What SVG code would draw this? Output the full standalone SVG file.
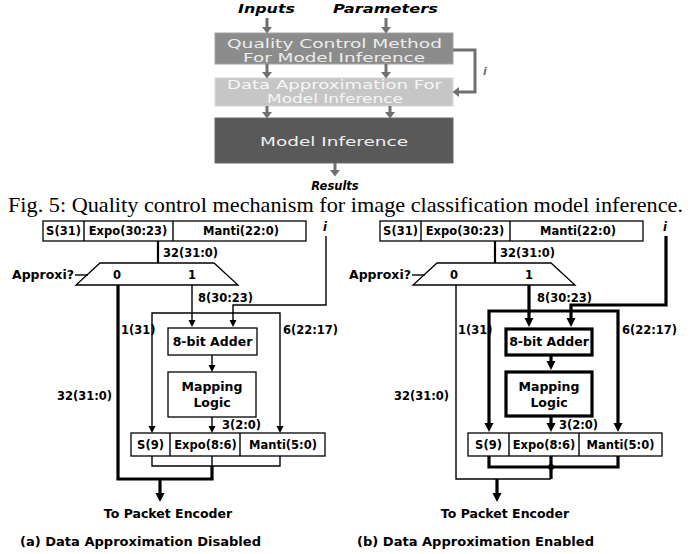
<svg xmlns="http://www.w3.org/2000/svg" width="694" height="554" viewBox="0 0 694 554">
<style>
.t{font-family:"DejaVu Sans",sans-serif;font-weight:bold;font-size:11.5px;fill:#000}
.L{font-size:12.5px}
.m{text-anchor:middle}
.e{text-anchor:end}
.thin{stroke:#000;stroke-width:1.4;fill:none}
.med{stroke:#000;stroke-width:2.2;fill:none}
.thick{stroke:#000;stroke-width:3.2;fill:none}
.box{fill:#fff;stroke:#000;stroke-width:1.3}
.boxb{fill:#fff;stroke:#000;stroke-width:3.2}
.g{stroke:#707070;stroke-width:3;fill:none}
.bt{font-family:"DejaVu Sans",sans-serif;font-size:12px}
.ti{font-family:"DejaVu Sans",sans-serif;font-weight:bold;font-style:italic;font-size:11.5px;fill:#000}
.cap{font-family:"Liberation Serif","Times New Roman",serif;font-size:21px;fill:#000}
</style>
<defs>
<marker id="ag" markerUnits="userSpaceOnUse" markerWidth="7" markerHeight="10" refX="3" refY="5" orient="auto"><path d="M0,0 L6.5,5 L0,10 z" fill="#707070"/></marker>
<marker id="as" markerUnits="userSpaceOnUse" markerWidth="8" markerHeight="8" refX="4" refY="3.5" orient="auto-start-reverse"><path d="M0,0 L7,3.5 L0,7 z" fill="#000"/></marker>
<marker id="ab" markerUnits="userSpaceOnUse" markerWidth="10" markerHeight="10" refX="5" refY="4.5" orient="auto-start-reverse"><path d="M0,0 L9,4.5 L0,9 z" fill="#000"/></marker>
</defs>

<!-- Fig. 5 flow -->
<g id="top-labels">
<text class="ti" x="238" y="13" textLength="57" lengthAdjust="spacingAndGlyphs">Inputs</text>
<text class="ti" x="333" y="13" textLength="105" lengthAdjust="spacingAndGlyphs">Parameters</text>
</g>
<g id="qc-method">
<rect x="215" y="33" width="238" height="31" fill="#8c8c8c" stroke="#a2a2a2" stroke-width="1"/>
<text class="bt" fill="#ececec"><tspan x="227" y="47.5" textLength="215" lengthAdjust="spacingAndGlyphs">Quality Control Method</tspan><tspan x="243" y="61.5" textLength="182" lengthAdjust="spacingAndGlyphs">For Model Inference</tspan></text>
</g>
<g id="data-approx">
<rect x="215" y="78" width="238" height="28" fill="#c6c6c6" stroke="#d6d6d6" stroke-width="1"/>
<text class="bt" fill="#f6f6f6"><tspan x="227" y="89" textLength="215" lengthAdjust="spacingAndGlyphs">Data Approximation For</tspan><tspan x="267" y="103" textLength="136" lengthAdjust="spacingAndGlyphs">Model Inference</tspan></text>
</g>
<g id="model-inference">
<rect x="215" y="118" width="238" height="45" fill="#595959" stroke="#6a6a6a" stroke-width="1"/>
<text class="bt" x="260" y="145.5" fill="#f0f0f0" font-size="13.5px" textLength="148" lengthAdjust="spacingAndGlyphs">Model Inference</text>
</g>
<g id="results-label">
<text class="ti m" x="335" y="190" font-size="11px">Results</text>
</g>
<g id="top-connectors">
<path class="g" d="M267,18 V30" marker-end="url(#ag)"/>
<path class="g" d="M386,18 V30" marker-end="url(#ag)"/>
<path class="g" d="M267,64 V75" marker-end="url(#ag)"/>
<path class="g" d="M386,64 V75" marker-end="url(#ag)"/>
<path class="g" d="M267,106 V115" marker-end="url(#ag)"/>
<path class="g" d="M390,106 V115" marker-end="url(#ag)"/>
<path class="g" d="M335,163 V173" marker-end="url(#ag)"/>
<path class="g" d="M453,50 H475 V92 H456" marker-end="url(#ag)"/>
<text x="483" y="75" font-family="DejaVu Sans,sans-serif" font-weight="bold" font-style="italic" font-size="11px" fill="#707070">i</text>
</g>

<text class="cap" x="8" y="212" textLength="675" lengthAdjust="spacingAndGlyphs">Fig. 5: Quality control mechanism for image classification model inference.</text>

<!-- (a) -->
<g id="diagram-a">
<g id="in-reg-a">
<rect class="box" x="43" y="221" width="263" height="20"/>
<line class="thin" x1="84" y1="221" x2="84" y2="241"/>
<line class="thin" x1="173" y1="221" x2="173" y2="241"/>
<text class="t m" x="63.5" y="235">S(31)</text>
<text class="t m" x="128" y="235">Expo(30:23)</text>
<text class="t m" x="241" y="235">Manti(22:0)</text>
</g>
<g id="i-a"><text class="ti" x="323" y="231">i</text></g>
<g id="mux-a">
<polygon class="box" points="100,263 214,263 238,285 76,285"/>
<text class="t m" x="117" y="279">0</text>
<text class="t m" x="192" y="279">1</text>
<text class="t L" x="12" y="279">Approxi?</text>
</g>
<g id="adder-a">
<rect class="box" x="168" y="328" width="89" height="27"/>
<text class="t L m" x="212.5" y="346">8-bit Adder</text>
</g>
<g id="mapping-a">
<rect class="box" x="168" y="372" width="88" height="45"/>
<text class="t L m" x="212" y="391">Mapping</text>
<text class="t L m" x="212" y="407">Logic</text>
</g>
<g id="out-reg-a">
<rect class="box" x="131" y="433" width="194" height="23"/>
<line class="thin" x1="170" y1="433" x2="170" y2="456"/>
<line class="thin" x1="240" y1="433" x2="240" y2="456"/>
<text class="t m" x="150.5" y="449">S(9)</text>
<text class="t m" x="205.5" y="449">Expo(8:6)</text>
<text class="t m" x="283" y="449">Manti(5:0)</text>
</g>
<g id="encoder-a"><text class="t L m" x="168" y="518">To Packet Encoder</text></g>
<g id="caption-a"><text class="t" x="20" y="546" font-size="12px" textLength="241" lengthAdjust="spacingAndGlyphs">(a) Data Approximation Disabled</text></g>
<g id="connectors-a">
<path class="med" d="M158,241 V263"/>
<path class="thin" d="M75,275 H88"/>
<path class="thin" d="M326,236 V305 H233 V324" marker-end="url(#as)"/>
<path class="thin" d="M192,285 V324" marker-end="url(#as)"/>
<path class="thin" d="M152,430 V313 H280 V430" marker-start="url(#as)" marker-end="url(#as)"/>
<path class="thin" d="M212,355 V369" marker-end="url(#as)"/>
<path class="thin" d="M212,417 V430" marker-end="url(#as)"/>
<path class="thin" d="M152,456 V466 H280 V456 M212,456 V466"/>
<path class="thick" d="M118,285 V479 H212 V466"/>
<path class="thick" d="M160,479 V498" marker-end="url(#ab)"/>
<text class="t" x="163" y="257">32(31:0)</text>
<text class="t" x="198" y="302">8(30:23)</text>
<text class="t" x="121" y="334">1(31)</text>
<text class="t" x="283" y="334">6(22:17)</text>
<text class="t e" x="112" y="400">32(31:0)</text>
<text class="t" x="222" y="429">3(2:0)</text>
</g>
</g>

<!-- (b) -->
<g id="diagram-b" transform="translate(337,0)">
<g id="in-reg-b">
<rect class="box" x="43" y="221" width="263" height="20"/>
<line class="thin" x1="84" y1="221" x2="84" y2="241"/>
<line class="thin" x1="173" y1="221" x2="173" y2="241"/>
<text class="t m" x="63.5" y="235">S(31)</text>
<text class="t m" x="128" y="235">Expo(30:23)</text>
<text class="t m" x="241" y="235">Manti(22:0)</text>
</g>
<g id="i-b"><text class="ti" x="326" y="231">i</text></g>
<g id="mux-b">
<polygon class="box" points="100,263 214,263 238,285 76,285"/>
<text class="t m" x="117" y="279">0</text>
<text class="t m" x="192" y="279">1</text>
<text class="t L" x="12" y="279">Approxi?</text>
</g>
<g id="adder-b">
<rect class="boxb" x="169" y="329" width="86" height="26"/>
<text class="t L m" x="212" y="346">8-bit Adder</text>
</g>
<g id="mapping-b">
<rect class="boxb" x="169" y="372" width="86" height="44"/>
<text class="t L m" x="212" y="391">Mapping</text>
<text class="t L m" x="212" y="407">Logic</text>
</g>
<g id="out-reg-b">
<rect class="box" x="131" y="433" width="194" height="23" stroke-width="1.8"/>
<line class="thin" x1="172" y1="433" x2="172" y2="456"/>
<line class="thin" x1="242" y1="433" x2="242" y2="456"/>
<text class="t m" x="151.5" y="449">S(9)</text>
<text class="t m" x="207" y="449">Expo(8:6)</text>
<text class="t m" x="283.5" y="449">Manti(5:0)</text>
</g>
<g id="encoder-b"><text class="t L m" x="168" y="518">To Packet Encoder</text></g>
<g id="caption-b"><text class="t" x="20" y="546" font-size="12px" textLength="237" lengthAdjust="spacingAndGlyphs">(b) Data Approximation Enabled</text></g>
<g id="connectors-b">
<path class="med" d="M158,241 V263"/>
<path class="thin" d="M75,275 H88"/>
<path class="thick" d="M329,236 V305 H234 V323" marker-end="url(#ab)"/>
<path class="thick" d="M192,285 V323" marker-end="url(#ab)"/>
<path class="thick" d="M152,428 V311 H281 V428" marker-start="url(#ab)" marker-end="url(#ab)"/>
<path class="thick" d="M214,355 V366" marker-end="url(#ab)"/>
<path class="thick" d="M214,416 V428" marker-end="url(#ab)"/>
<path class="thick" d="M152,456 V467 H281 V456 M214,456 V479"/>
<circle cx="214" cy="467" r="3" fill="#000"/>
<path class="thin" d="M119,285 V479 H214"/>
<path class="thick" d="M160,479 V498" marker-end="url(#ab)"/>
<text class="t" x="163" y="257">32(31:0)</text>
<text class="t" x="200" y="302">8(30:23)</text>
<text class="t" x="121" y="334">1(31)</text>
<text class="t" x="285" y="334">6(22:17)</text>
<text class="t e" x="112" y="400" font-weight="normal">32(31:0)</text>
<text class="t" x="222" y="429">3(2:0)</text>
</g>
</g>
</svg>
